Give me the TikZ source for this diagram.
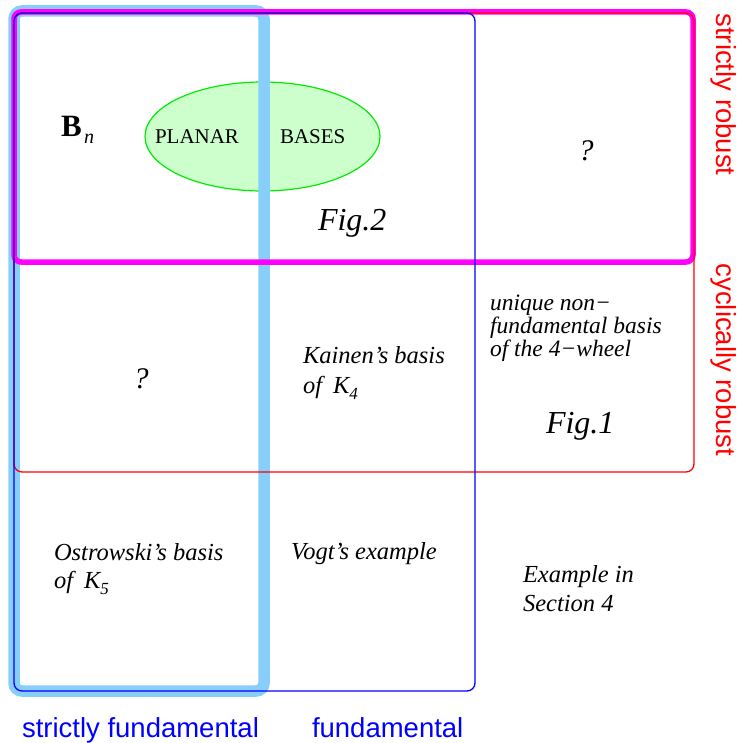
\documentclass[tikz,border=0pt]{standalone}
\usepackage{fontspec}
\setmainfont{Liberation Serif}
\newfontfamily\lsans{Liberation Sans}
\usetikzlibrary{shapes.geometric}
\definecolor{skyb}{RGB}{135,206,250}
\definecolor{mag}{RGB}{255,0,255}
\definecolor{grn}{RGB}{0,235,0}
\definecolor{lgrn}{RGB}{204,255,204}
\begin{document}
\begin{tikzpicture}[x=1pt,y=-1pt,
  lbl/.style={inner sep=0pt, outer sep=0pt, anchor=base west},
  body/.style={lbl, font=\fontsize{24.5}{29}\selectfont\itshape},
  small/.style={lbl, font=\fontsize{23.5}{23}\selectfont\itshape},
  figlbl/.style={lbl, font=\fontsize{32}{32}\selectfont\itshape},
  qm/.style={lbl, anchor=base, font=\fontsize{30}{30}\selectfont\itshape},
  caps/.style={lbl, font=\fontsize{21}{21}\selectfont},
  sanslbl/.style={inner sep=0pt, outer sep=0pt, font=\lsans\fontsize{27.5}{27.5}\selectfont},
  setbox/.style={line width=1.3pt, rounded corners=8pt}
]
\useasboundingbox (0,0) rectangle (739,743);
% ellipse of planar bases
\node[ellipse, draw=grn, fill=lgrn, line width=1.2pt, minimum width=235pt, minimum height=109pt, inner sep=0pt] (ell) at (262.5,136.5) {};
% sets
\draw[skyb, line width=11.5pt, rounded corners=8pt] (14,11) rectangle (264,691);
\draw[mag, line width=5.5pt, rounded corners=7pt] (14,12) rectangle (693,262);
\draw[setbox, red] (14,13) rectangle (694,472);
\draw[setbox, blue] (14,13) rectangle (475,691);
% texts
\node[lbl, font=\fontsize{31}{31}\selectfont\bfseries] (bn) at (61,137) {B};
\node[lbl, font=\fontsize{20}{20}\selectfont\itshape] (sn) at (84,144) {n};
\node[caps] (planar) at (155,144) {PLANAR};
\node[caps] (bases) at (280,144) {BASES};
\node[qm] (q1) at (586,161) {?};
\node[figlbl] (fig2) at (318,230) {Fig.2};
\node[qm] (q2) at (141,388) {?};
\node[body] (kai1) at (303,363) {Kainen’s basis};
\node[body] (kai2) at (303,393) {of\hspace{0.45em}K\raisebox{-6pt}{\fontsize{17}{17}\selectfont 4}};
\node[small] (un1) at (490,310) {unique non−};
\node[small] (un2) at (490,333) {fundamental basis};
\node[small] (un3) at (490,356) {of the 4−wheel};
\node[figlbl] (fig1) at (546,433) {Fig.1};
\node[body] (ost1) at (54,560) {Ostrowski’s basis};
\node[body] (ost2) at (54,588) {of\hspace{0.45em}K\raisebox{-6pt}{\fontsize{17}{17}\selectfont 5}};
\node[body] (vogt) at (291,559) {Vogt’s example};
\node[body] (ex1) at (523,582) {Example in};
\node[body] (ex2) at (523,611) {Section 4};
% set labels
\node[sanslbl, anchor=base west, text=blue] (sfund) at (22,737) {strictly fundamental};
\node[sanslbl, anchor=base west, text=blue] (fund) at (312,737) {fundamental};
\node[sanslbl, rotate=-90, text=red] (srob) at (724,94.5) {strictly robust};
\node[sanslbl, rotate=-90, text=red] (crob) at (724,360) {cyclically robust};
\end{tikzpicture}
\end{document}
